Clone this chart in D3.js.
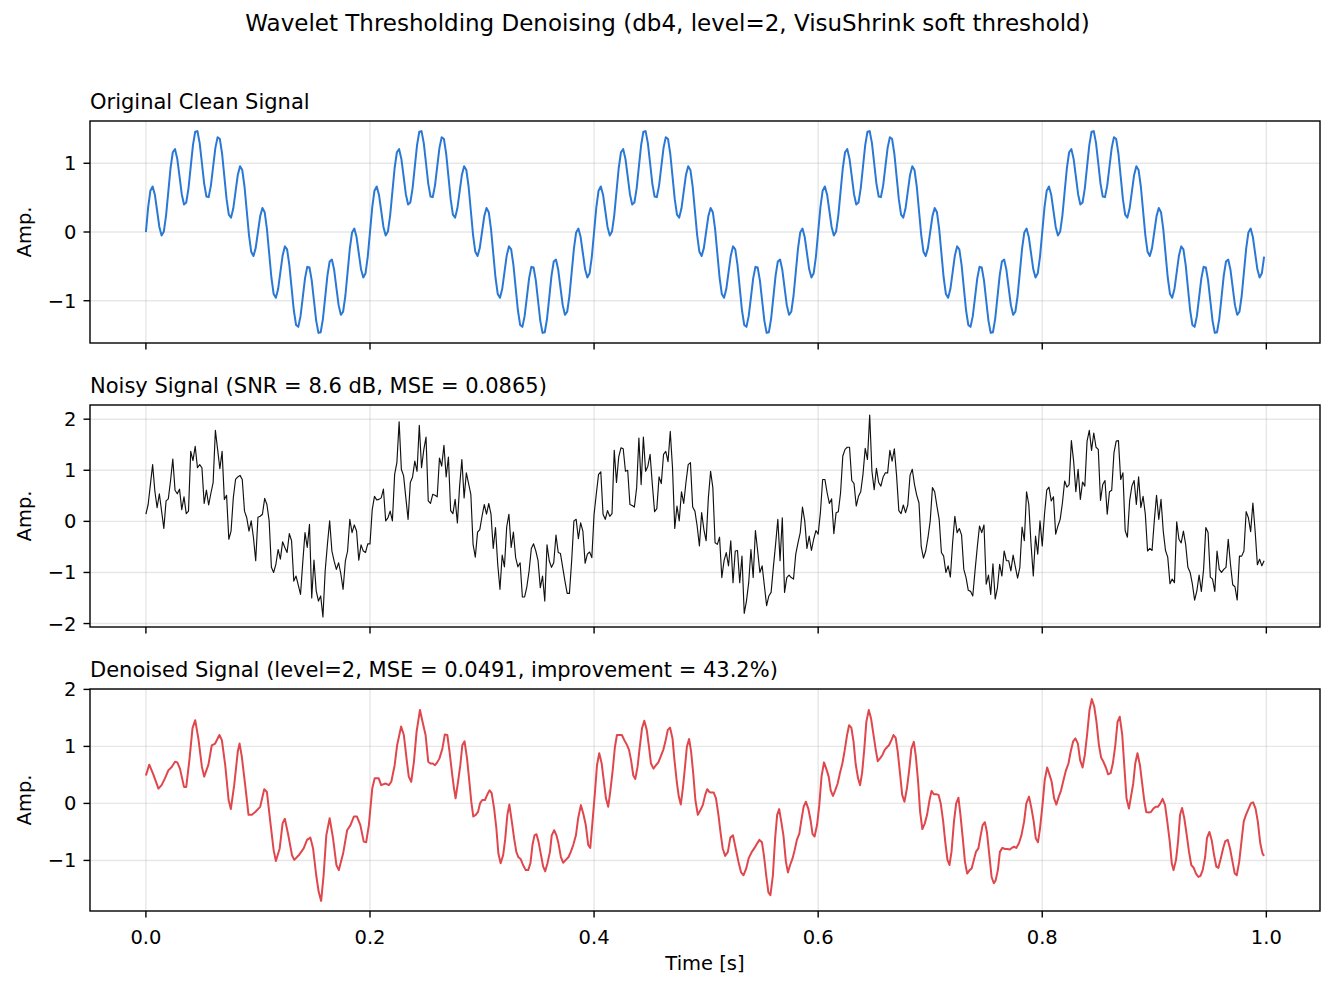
<!DOCTYPE html>
<html>
<head>
<meta charset="utf-8">
<script src="https://cdn.jsdelivr.net/npm/d3@7"></script>
<style>
  body { margin: 0; background: #fff; }
  svg { display: block; font-family: "DejaVu Sans", sans-serif; }
  .grid { stroke: #b0b0b0; stroke-opacity: 0.3; stroke-width: 1.4; }
  .spine { fill: none; stroke: #000; stroke-width: 1.4; }
  .tick { stroke: #000; stroke-width: 1.4; }
  .tick-label { font-size: 19.5px; fill: #000; }
  .axis-label { font-size: 19.5px; fill: #000; }
  .panel-title { font-size: 21px; fill: #000; }
  .suptitle { font-size: 23px; fill: #000; }
  .signal { fill: none; stroke-linejoin: round; stroke-linecap: butt; }
</style>
</head>
<body>
<svg id="chart" width="1335" height="992"></svg>
<script>
var sampleRate = 500;

// clean signal, one value per sample (five identical 0.2 s periods)
var cleanSignal = [
  0,.357,.601,.663,.543,.309,.074,-.05,.006,.242,.588,.931,1.16,1.205,1.064,.809,.55,.401,.429,.636,.951,1.263,1.458,1.468,1.292,1,.704,.517,.507,.675,.951,1.224,1.38,1.352,1.138,.809,.477,.254,.209,.344,.588,.83,.957,.901,.662,.309,-.045,-.288,-.35,-.231,0,.231,.35,.288,.045,-.309,-.662,-.901,-.957,-.83,-.588,-.344,-.209,-.254,-.477,-.809,-1.138,-1.352,-1.38,-1.224,-.951,-.675,-.507,-.517,-.704,-1,-1.292,-1.468,-1.458,-1.263,-.951,-.636,-.429,-.401,-.55,-.809,-1.064,-1.205,-1.16,-.931,-.588,-.242,-.006,.05,-.074,-.309,-.543,-.663,-.601,-.357,
  0,.357,.601,.663,.543,.309,.074,-.05,.006,.242,.588,.931,1.16,1.205,1.064,.809,.55,.401,.429,.636,.951,1.263,1.458,1.468,1.292,1,.704,.517,.507,.675,.951,1.224,1.38,1.352,1.138,.809,.477,.254,.209,.344,.588,.83,.957,.901,.662,.309,-.045,-.288,-.35,-.231,0,.231,.35,.288,.045,-.309,-.662,-.901,-.957,-.83,-.588,-.344,-.209,-.254,-.477,-.809,-1.138,-1.352,-1.38,-1.224,-.951,-.675,-.507,-.517,-.704,-1,-1.292,-1.468,-1.458,-1.263,-.951,-.636,-.429,-.401,-.55,-.809,-1.064,-1.205,-1.16,-.931,-.588,-.242,-.006,.05,-.074,-.309,-.543,-.663,-.601,-.357,
  0,.357,.601,.663,.543,.309,.074,-.05,.006,.242,.588,.931,1.16,1.205,1.064,.809,.55,.401,.429,.636,.951,1.263,1.458,1.468,1.292,1,.704,.517,.507,.675,.951,1.224,1.38,1.352,1.138,.809,.477,.254,.209,.344,.588,.83,.957,.901,.662,.309,-.045,-.288,-.35,-.231,0,.231,.35,.288,.045,-.309,-.662,-.901,-.957,-.83,-.588,-.344,-.209,-.254,-.477,-.809,-1.138,-1.352,-1.38,-1.224,-.951,-.675,-.507,-.517,-.704,-1,-1.292,-1.468,-1.458,-1.263,-.951,-.636,-.429,-.401,-.55,-.809,-1.064,-1.205,-1.16,-.931,-.588,-.242,-.006,.05,-.074,-.309,-.543,-.663,-.601,-.357,
  0,.357,.601,.663,.543,.309,.074,-.05,.006,.242,.588,.931,1.16,1.205,1.064,.809,.55,.401,.429,.636,.951,1.263,1.458,1.468,1.292,1,.704,.517,.507,.675,.951,1.224,1.38,1.352,1.138,.809,.477,.254,.209,.344,.588,.83,.957,.901,.662,.309,-.045,-.288,-.35,-.231,0,.231,.35,.288,.045,-.309,-.662,-.901,-.957,-.83,-.588,-.344,-.209,-.254,-.477,-.809,-1.138,-1.352,-1.38,-1.224,-.951,-.675,-.507,-.517,-.704,-1,-1.292,-1.468,-1.458,-1.263,-.951,-.636,-.429,-.401,-.55,-.809,-1.064,-1.205,-1.16,-.931,-.588,-.242,-.006,.05,-.074,-.309,-.543,-.663,-.601,-.357,
  0,.357,.601,.663,.543,.309,.074,-.05,.006,.242,.588,.931,1.16,1.205,1.064,.809,.55,.401,.429,.636,.951,1.263,1.458,1.468,1.292,1,.704,.517,.507,.675,.951,1.224,1.38,1.352,1.138,.809,.477,.254,.209,.344,.588,.83,.957,.901,.662,.309,-.045,-.288,-.35,-.231,0,.231,.35,.288,.045,-.309,-.662,-.901,-.957,-.83,-.588,-.344,-.209,-.254,-.477,-.809,-1.138,-1.352,-1.38,-1.224,-.951,-.675,-.507,-.517,-.704,-1,-1.292,-1.468,-1.458,-1.263,-.951,-.636,-.429,-.401,-.55,-.809,-1.064,-1.205,-1.16,-.931,-.588,-.242,-.006,.05,-.074,-.309,-.543,-.663,-.601,-.357
];

// noisy signal, one value per sample
var noisySignal = [
  0.14,0.33,0.72,1.11,0.59,0.27,0.54,0.20,-0.14,0.40,
  0.44,0.80,1.22,0.61,0.54,0.63,0.23,0.48,0.15,0.20,
  1.37,1.19,1.47,1.05,1.11,1.05,0.35,0.61,0.32,0.55,
  0.76,1.78,1.41,1.03,1.37,0.43,0.51,-0.35,-0.19,0.46,
  0.82,0.87,0.90,0.82,0.20,0.07,-0.19,0.01,-0.32,-0.77,
  0.08,0.10,0.14,0.45,0.33,0.01,-0.90,-1.00,-0.84,-0.55,
  -0.74,-0.40,-0.51,-0.61,-0.24,-0.38,-1.17,-1.07,-1.25,-1.43,
  -0.80,-0.22,-0.51,-0.06,-1.50,-0.76,-1.36,-1.56,-1.46,-1.87,
  -0.97,-0.45,0.01,-0.58,-0.78,-0.94,-0.81,-1.03,-1.33,-0.78,
  -0.58,0.04,-0.22,-0.07,-0.19,-0.76,-0.46,-0.58,-0.61,-0.44,
  -0.44,0.23,0.49,0.42,0.43,0.46,0.63,0.01,0.07,0.20,
  0.01,0.92,1.15,1.95,1.02,0.89,0.46,0.04,0.76,0.87,
  1.18,0.98,1.88,1.05,1.40,1.65,0.40,0.35,0.53,0.51,
  0.48,1.24,1.08,1.49,0.87,1.26,0.21,0.15,0.43,-0.03,
  0.69,1.21,0.46,0.95,0.74,0.53,-0.45,-0.70,-0.21,-0.16,
  0.10,0.33,0.14,0.35,0.14,-0.53,-0.12,-0.84,-1.33,-0.66,
  -0.89,-0.11,0.14,-0.51,-0.21,-0.71,-0.89,-0.81,-1.48,-1.48,
  -1.28,-0.97,-0.53,-0.44,-0.58,-0.77,-1.30,-1.07,-1.56,-0.46,
  -0.77,-0.90,-0.81,-0.27,-0.61,-0.63,-0.90,-1.17,-1.41,-1.41,
  -0.77,0.01,0.04,-0.34,-0.03,-0.19,-0.82,-0.64,-0.60,-0.71,
  0.14,0.54,0.92,0.97,0.14,0.04,0.21,0.10,0.15,1.39,
  0.76,1.26,1.44,1.42,0.98,1.00,0.33,0.31,0.28,0.66,
  1.63,0.72,1.65,0.98,1.08,1.31,0.72,0.19,0.25,0.87,
  0.74,1.31,1.37,1.17,1.76,1.05,-0.14,0.30,0.01,0.58,
  0.35,0.76,1.11,1.15,0.28,0.20,-0.09,-0.48,0.17,-0.16,
  -0.38,0.46,0.98,0.66,-0.42,-0.45,-0.31,-1.10,-0.77,-0.61,
  -0.87,-0.38,-1.20,-0.58,-0.57,-1.20,-0.68,-1.80,-1.56,-1.20,
  -0.55,-1.10,-0.18,-0.58,-1.00,-0.87,-1.26,-1.65,-1.46,-1.39,
  -0.90,-0.45,0.04,-0.77,0.07,-1.39,-1.10,-1.05,-1.10,-1.13,
  -0.64,-0.42,-0.22,0.28,0.01,-0.53,-0.29,-0.57,-0.35,-0.18,
  -0.25,0.17,0.82,0.82,0.56,0.35,0.44,-0.24,0.17,0.19,
  0.56,1.28,1.41,1.45,1.45,0.80,0.74,0.30,0.49,0.58,
  0.92,1.43,1.21,2.08,0.98,0.62,1.04,0.76,0.69,0.87,
  0.95,0.95,1.39,1.18,1.42,0.89,0.21,0.15,0.32,0.17,
  0.32,0.90,1.02,0.72,0.51,0.36,-0.50,-0.72,-0.58,-0.32,
  0.01,0.66,0.58,0.30,0.04,-0.61,-0.68,-1.00,-0.87,-1.09,
  -0.42,0.10,-0.22,-0.14,-0.27,-0.94,-1.10,-1.35,-1.37,-1.46,
  -0.97,-0.51,-0.09,-0.22,-0.07,-1.23,-1.05,-1.43,-0.83,-1.52,
  -1.30,-0.84,-1.07,-0.58,-0.77,-0.77,-0.97,-0.66,-0.89,-1.11,
  -0.90,-0.11,-0.38,0.58,0.33,-0.45,-1.07,-0.29,-0.64,0.01,
  -0.48,0.14,0.61,0.67,0.40,0.48,-0.25,-0.09,0.04,0.36,
  0.79,0.67,0.72,1.58,1.18,0.58,1.02,0.43,0.77,0.69,
  1.57,1.78,1.39,1.73,1.45,1.41,0.41,0.72,0.80,0.14,
  0.58,0.61,1.34,1.57,1.58,0.82,0.95,-0.18,-0.31,0.40,
  0.69,0.80,0.33,0.87,0.27,0.49,0.14,-0.58,-0.53,-0.57,
  0.01,0.51,0.04,0.43,-0.19,-0.57,-0.70,-1.22,-1.13,-1.20,
  -0.01,-0.35,-0.42,-0.19,-0.45,-0.90,-1.00,-1.23,-1.54,-1.36,
  -1.05,-1.37,-0.94,-0.12,-0.22,-1.09,-1.13,-1.37,-0.58,-0.94,
  -1.00,-0.94,-0.90,-0.35,-0.84,-1.24,-1.28,-1.54,-0.68,-0.68,
  -0.58,0.19,0.07,-0.20,0.36,-0.19,-0.85,-0.74,-0.87,-0.77
];

// denoised signal: sample positions and values
var denoisedSample = [
  0,1.5,3.3,5.6,7,8.5,10,11.5,13,14,15.2,17,18,19.4,20.8,22,23.4,25,26,27.9,
  29.4,30.9,32.8,33.9,35.4,36.9,37.9,39.4,41,41.8,42.8,44.3,45.8,47.3,48.8,51,52.8,54,55.5,57,
  58,59.7,61,62,63.4,65.2,66.2,68.2,70.4,71.9,73.4,74.6,76,77.1,78.2,79.3,80.5,82,83.5,85,
  86.1,88,89.8,91.3,92.8,94.2,95.7,97.2,98.3,99.5,101,102.1,103.9,105,106.9,108.4,109.5,111,112.1,113.9,
  115.1,116.3,117.3,118.4,119.6,120.8,122.3,123.3,
  124.8,126,127,128,129,130,131,132.3,133.4,134.5,135.5,136.7,137.5,138.2,139.3,140.3,141.2,142.2,143.3,144.2,
  145.2,146.1,147.2,148.2,149.1,150.1,151.3,152.4,153.4,154.3,155.4,156.4,157.3,158.3,159.4,160.3,161.3,162.2,163.3,164.3,
  165.3,166.2,167.3,168.3,169.5,170.6,171.6,172.5,173.4,174.3,175.2,176.2,177.3,178.2,179.2,180.3,181.1,182.2,183.2,184.1,
  185.2,186.2,187.4,188.6,189.6,190.7,191.9,192.9,194.1,195.2,196.3,197.4,198.3,199.3,200.4,201.3,202.3,203.4,204.2,205.3,
  206.3,207.2,208.3,209.3,210.2,211.2,212.4,213.5,214.5,215.6,216.5,217.5,218.4,219.4,220.3,221.4,222.4,223.5,224.5,225.4,
  226.5,227.6,228.7,229.7,230.9,231.8,232.9,233.9,235,235.8,236.9,237.8,238.7,239.6,240.5,241.4,242.4,243.3,244.3,245.2,
  246.3,247.3,248.5,249.6,250.5,251.5,
  252.2,253.4,254.4,255.5,256.4,257.4,258.5,259.7,260.8,262,263.2,264.4,265.6,266.7,267.9,269,270.4,271.6,272.8,273.8,
  274.9,275.8,276.8,277.8,278.7,279.8,280.8,281.7,282.6,283.5,284.5,285.6,286.5,287.5,288.6,289.5,290.5,291.6,292.4,293.5,
  294.5,295.6,296.6,297.5,298.4,299.5,300.5,301.5,302.6,303.6,304.7,305.6,306.6,307.6,308.7,309.7,310.8,311.8,312.9,313.8,
  314.8,315.8,316.7,317.8,318.7,319.6,320.6,321.5,322.6,323.6,324.6,325.7,326.6,327.6,328.7,329.7,330.8,331.6,332.7,333.6,
  334.6,335.5,336.6,337.5,338.5,339.6,340.6,341.6,342.7,343.6,344.6,345.5,346.5,347.6,348.6,349.7,350.6,351.6,352.7,353.7,
  354.7,355.8,356.7,357.7,358.6,359.5,360.6,361.6,362.6,363.5,364.6,365.5,366.5,367.6,368.5,369.5,370.4,371.5,372.3,373.4,
  374.4,375.3,376.4,377.4,378.4,
  379.2,380.2,381.1,382.2,383.4,384.4,385.5,386.4,387.4,388.4,389.6,390.7,391.9,392.9,394.1,395.2,396.2,397.1,398.1,399,
  400.1,401.1,402.2,403.2,404.2,405.3,406.3,407.4,408.4,409.5,410.5,411.7,412.7,413.8,414.8,415.9,416.9,418,419,420,
  421.1,422.1,423.2,424.2,425.3,426.3,427.3,428.4,429.4,430.5,431.5,432.6,433.6,434.6,435.7,436.7,437.6,438.7,439.6,440.6,
  441.5,442.5,443.6,444.5,445.5,446.4,447.5,448.5,449.6,450.6,451.6,452.7,453.7,454.8,455.8,456.9,457.8,458.6,459.7,460.6,
  461.5,462.4,463.4,464.5,465.5,466.5,467.6,468.6,469.7,470.6,471.6,472.7,473.5,474.6,475.6,476.7,477.7,478.6,479.7,480.7,
  481.7,482.8,483.8,484.9,485.9,486.8,487.9,488.9,489.9,490.9,492,493.1,494.1,495.2,496.2,497.3,498.3,499
];
var denoisedSignal = [
  0.49,0.68,0.51,0.26,0.32,0.44,0.58,0.64,0.73,0.72,0.61,0.29,0.29,0.76,1.32,1.46,1.14,0.64,0.47,0.68,
  1.02,1.05,1.20,1.11,0.67,0.06,-0.10,0.32,0.91,1.05,0.82,0.32,-0.20,-0.20,-0.15,-0.06,0.25,0.20,-0.32,-0.82,
  -1.01,-0.79,-0.35,-0.27,-0.53,-0.91,-0.99,-0.91,-0.79,-0.64,-0.60,-0.79,-1.26,-1.55,-1.71,-1.26,-0.56,-0.26,-0.61,-1.08,
  -1.17,-0.88,-0.47,-0.38,-0.23,-0.23,-0.38,-0.67,-0.68,-0.38,0.26,0.44,0.44,0.32,0.35,0.32,0.38,0.67,1.02,1.35,
  1.20,0.79,0.47,0.38,0.73,1.26,1.64,1.46,
  1.20,0.73,0.70,0.70,0.67,0.72,0.79,0.96,1.21,1.20,0.91,0.50,0.26,0.09,0.38,0.67,1.02,1.09,0.79,0.44,
  0.03,-0.23,-0.20,-0.15,0.00,0.06,0.06,0.16,0.23,0.18,-0.09,-0.44,-0.88,-1.05,-0.91,-0.64,-0.20,-0.02,-0.32,-0.61,
  -0.85,-0.94,-0.98,-1.08,-1.17,-1.17,-1.05,-0.73,-0.56,-0.54,-0.67,-0.88,-1.11,-1.19,-1.05,-0.85,-0.56,-0.47,-0.56,-0.70,
  -0.94,-1.04,-0.99,-0.94,-0.85,-0.73,-0.56,-0.26,-0.03,-0.18,-0.38,-0.73,-0.78,-0.32,0.20,0.67,0.88,0.70,0.44,0.09,
  -0.06,0.20,0.58,0.99,1.20,1.20,1.20,1.11,1.04,0.94,0.76,0.49,0.43,0.64,0.96,1.32,1.45,1.29,0.99,0.70,
  0.61,0.67,0.72,0.82,0.94,1.08,1.29,1.33,1.14,0.79,0.38,0.12,-0.02,0.26,0.61,0.99,1.13,0.91,0.50,0.06,
  -0.20,-0.13,-0.03,0.15,0.25,0.20,
  0.19,0.19,0.09,-0.20,-0.50,-0.79,-0.92,-0.85,-0.60,-0.56,-0.79,-1.02,-1.21,-1.26,-1.14,-0.96,-0.85,-0.78,-0.70,-0.64,
  -0.68,-0.91,-1.26,-1.56,-1.61,-1.26,-0.61,-0.20,-0.10,-0.31,-0.56,-1.02,-1.21,-1.08,-0.96,-0.82,-0.64,-0.53,-0.32,-0.06,
  0.03,-0.09,-0.29,-0.54,-0.58,-0.38,-0.03,0.47,0.72,0.61,0.47,0.23,0.13,0.23,0.35,0.53,0.70,0.92,1.20,1.37,
  1.33,1.08,0.70,0.44,0.32,0.53,0.96,1.43,1.64,1.49,1.23,0.94,0.74,0.79,0.85,0.94,0.99,1.02,1.11,1.20,
  1.15,0.91,0.50,0.15,0.03,0.26,0.58,0.96,1.08,0.82,0.38,-0.15,-0.45,-0.35,-0.20,0.06,0.22,0.16,0.16,0.15,
  0.00,-0.32,-0.67,-0.99,-1.08,-0.85,-0.32,0.00,0.10,-0.20,-0.64,-1.02,-1.23,-1.17,-1.14,-0.99,-0.85,-0.79,-0.61,-0.38,
  -0.33,-0.50,-0.91,-1.29,-1.40,
  -1.35,-1.17,-0.85,-0.78,-0.80,-0.80,-0.81,-0.78,-0.76,-0.78,-0.70,-0.56,-0.32,0.00,0.12,-0.09,-0.32,-0.61,-0.68,-0.44,
  -0.03,0.41,0.63,0.51,0.38,0.09,-0.02,0.12,0.23,0.41,0.57,0.70,0.91,1.09,1.14,1.05,0.76,0.63,0.85,1.20,
  1.64,1.83,1.70,1.43,1.02,0.80,0.73,0.63,0.51,0.53,0.70,1.02,1.43,1.52,1.20,0.61,0.09,-0.09,0.12,0.35,
  0.70,0.88,0.67,0.38,0.06,-0.15,-0.16,-0.15,-0.09,-0.06,-0.06,0.00,0.08,-0.03,-0.32,-0.67,-1.05,-1.17,-0.99,-0.67,
  -0.20,-0.08,-0.26,-0.56,-0.85,-1.08,-1.13,-1.23,-1.29,-1.27,-1.17,-0.94,-0.61,-0.50,-0.64,-0.91,-1.11,-1.13,-0.96,-0.79,
  -0.66,-0.64,-0.79,-1.02,-1.23,-1.26,-1.02,-0.67,-0.32,-0.20,-0.10,0.00,0.02,-0.09,-0.32,-0.70,-0.88,-0.92
];

var timeTicks = [0, 0.2, 0.4, 0.6, 0.8, 1.0];
var cleanTicks = [-1, 0, 1];
var noisyTicks = [-2, -1, 0, 1, 2];
var denoisedTicks = [-1, 0, 1, 2];

var figTitle = "Wavelet Thresholding Denoising (db4, level=2, VisuShrink soft threshold)";
var panelTitles = [
  "Original Clean Signal",
  "Noisy Signal (SNR = 8.6 dB, MSE = 0.0865)",
  "Denoised Signal (level=2, MSE = 0.0491, improvement = 43.2%)"
];

var W = 1335, H = 992;
var plotLeft = 90, plotRight = 1320, plotHeight = 222;
var panelTops = [121, 405, 689];
var tickLen = 6.5, tickPad = 7;

function padExtent(ext) {
  var m = (ext[1] - ext[0]) * 0.05;
  return [ext[0] - m, ext[1] + m];
}

var svg = d3.select("#chart");
svg.append("rect").attr("width", W).attr("height", H).attr("fill", "#fff");

var allTimes = noisySignal.map(function(d, i) { return i / sampleRate; });
var x = d3.scaleLinear()
  .domain(padExtent(d3.extent(allTimes)))
  .range([plotLeft, plotRight]);

var Panel = function(id, top, points, yTicks, title, color, width, showTimeLabels) {
  this.id = id;
  this.top = top;
  this.points = points;
  this.yTicks = yTicks;
  this.title = title;
  this.color = color;
  this.width = width;
  this.showTimeLabels = showTimeLabels;
  this.y = d3.scaleLinear()
    .domain(padExtent(d3.extent(points, function(d) { return d[1]; })))
    .range([top + plotHeight, top]);
}

Panel.prototype.draw = function(svg) {
  var y = this.y;
  var bottom = this.top + plotHeight;
  var g = svg.append("g").attr("id", this.id);

  g.append("clipPath").attr("id", this.id + "-clip")
    .append("rect")
    .attr("x", plotLeft).attr("y", this.top)
    .attr("width", plotRight - plotLeft).attr("height", plotHeight);

  // grid
  g.selectAll(".gx").data(timeTicks).enter().append("line")
    .attr("class", "grid")
    .attr("x1", function(d) { return x(d); })
    .attr("x2", function(d) { return x(d); })
    .attr("y1", this.top).attr("y2", bottom);
  g.selectAll(".gy").data(this.yTicks).enter().append("line")
    .attr("class", "grid")
    .attr("x1", plotLeft).attr("x2", plotRight)
    .attr("y1", function(d) { return y(d); })
    .attr("y2", function(d) { return y(d); });

  var line = d3.line()
    .x(function(d) { return x(d[0]); })
    .y(function(d) { return y(d[1]); });

  g.append("path")
    .datum(this.points)
    .attr("class", "signal")
    .attr("clip-path", "url(#" + this.id + "-clip)")
    .attr("stroke", this.color)
    .attr("stroke-width", this.width)
    .attr("d", line);

  g.append("rect")
    .attr("class", "spine")
    .attr("x", plotLeft).attr("y", this.top)
    .attr("width", plotRight - plotLeft).attr("height", plotHeight);

  // y ticks
  g.selectAll(".ty").data(this.yTicks).enter().append("line")
    .attr("class", "tick")
    .attr("x1", plotLeft - tickLen).attr("x2", plotLeft)
    .attr("y1", function(d) { return y(d); })
    .attr("y2", function(d) { return y(d); });
  g.selectAll(".ly").data(this.yTicks).enter().append("text")
    .attr("class", "tick-label")
    .attr("text-anchor", "end")
    .attr("x", plotLeft - tickLen - tickPad)
    .attr("y", function(d) { return y(d); })
    .attr("dy", "0.36em")
    .text(d3.format("d"));

  // x ticks
  g.selectAll(".tx").data(timeTicks).enter().append("line")
    .attr("class", "tick")
    .attr("x1", function(d) { return x(d); })
    .attr("x2", function(d) { return x(d); })
    .attr("y1", bottom).attr("y2", bottom + tickLen);
  if (this.showTimeLabels) {
    g.selectAll(".lx").data(timeTicks).enter().append("text")
      .attr("class", "tick-label")
      .attr("text-anchor", "middle")
      .attr("x", function(d) { return x(d); })
      .attr("y", bottom + 33)
      .text(d3.format(".1f"));
  }

  g.append("text")
    .attr("class", "panel-title")
    .attr("x", plotLeft)
    .attr("y", this.top - 12)
    .text(this.title);

  g.append("text")
    .attr("class", "axis-label")
    .attr("text-anchor", "middle")
    .attr("transform", "translate(31," + (this.top + plotHeight / 2) + ") rotate(-90)")
    .text("Amp.");
}

var cleanPoints = cleanSignal.map(function(v, i) { return [i / sampleRate, v]; });
var noisyPoints = noisySignal.map(function(v, i) { return [i / sampleRate, v]; });
var denoisedPoints = denoisedSample.map(function(s, i) { return [s / sampleRate, denoisedSignal[i]]; });

var panels = [
  new Panel("clean", panelTops[0], cleanPoints, cleanTicks, panelTitles[0], "#2a78d6", 2, false),
  new Panel("noisy", panelTops[1], noisyPoints, noisyTicks, panelTitles[1], "#111", 1.15, false),
  new Panel("denoised", panelTops[2], denoisedPoints, denoisedTicks, panelTitles[2], "#e0474c", 2, true)
];
for (var i = 0; i < panels.length; i++) {
  panels[i].draw(svg);
}

svg.append("text")
  .attr("class", "axis-label")
  .attr("text-anchor", "middle")
  .attr("x", (plotLeft + plotRight) / 2)
  .attr("y", 970)
  .text("Time [s]");

svg.append("text")
  .attr("class", "suptitle")
  .attr("text-anchor", "middle")
  .attr("x", W / 2)
  .attr("y", 31)
  .text(figTitle);
</script>
</body>
</html>
